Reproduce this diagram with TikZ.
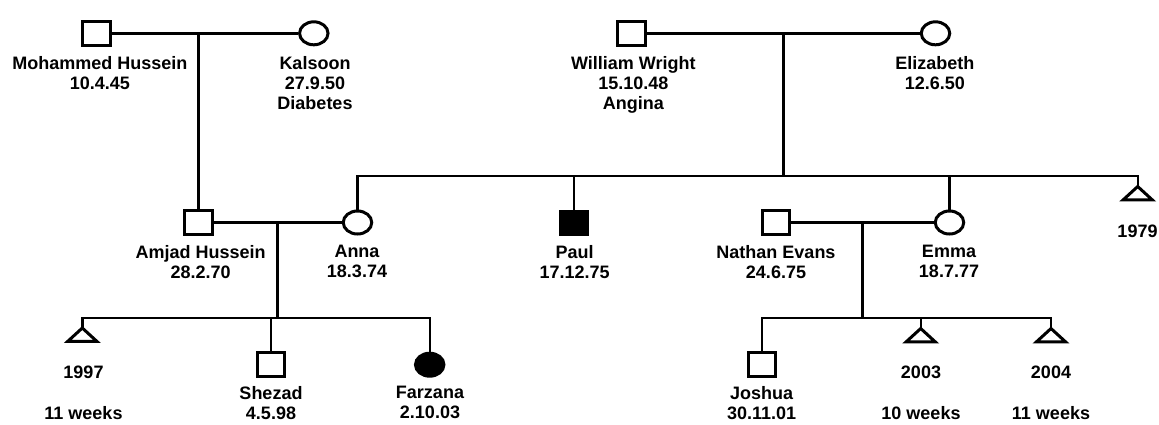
\documentclass[tikz,border=0pt]{standalone}
\usepackage{fontspec}
\setmainfont{Liberation Sans}
\usetikzlibrary{shapes.geometric}
\begin{document}
\begin{tikzpicture}[x=1pt,y=-1pt,
  male/.style={draw, rectangle, line width=3pt, minimum width=27.5pt, minimum height=23.5pt, inner sep=0pt},
  female/.style={draw, ellipse, line width=3pt, minimum width=28.5pt, minimum height=23pt, inner sep=0pt},
  affm/.style={fill=black},
  lbl/.style={font=\fontsize{18}{19.8}\selectfont\bfseries, align=center, anchor=north, inner sep=0pt},
  conn/.style={line width=2.4pt},
  drop/.style={line width=3pt},
  tri/.style={line width=3pt, line join=miter}]
\useasboundingbox (0,0) rectangle (1159,424);

% persons
\node[male]   (M)  at (96.7,33.3) {};
\node[female] (K)  at (313.8,33.3) {};
\node[male]   (W)  at (631.7,33.3) {};
\node[female] (E)  at (935.5,33.3) {};
\node[male]   (A)  at (198.5,222.5) {};
\node[female] (An) at (357.5,222.5) {};
\node[male,affm] (P) at (574,222.8) {};
\node[male]   (N)  at (776.2,222.5) {};
\node[female] (Em) at (949.5,222.5) {};
\node[male]   (S)  at (270.8,364.7) {};
\node[female,affm] (F) at (429.7,364.7) {};
\node[male]   (J)  at (761.8,364.7) {};

% Hussein couple
\coordinate (mk) at (198.5,33.3);
\draw[conn] (M) -- (K);
\draw[drop] (mk) -- (A);

% Wright couple
\coordinate (we) at (783.3,33.3);
\coordinate (s1) at (783.3,176);
\draw[conn] (W) -- (E);
\draw[drop] (we) -- (s1);
\coordinate (t79) at (1137.7,186.5);
\draw[conn] (An.north) -- (An.north |- s1) -- (t79 |- s1) -- (t79);
\draw[conn] (P.north) -- (P.north |- s1);
\draw[conn] (Em.north) -- (Em.north |- s1);
\draw[tri] (t79) -- ++(-14.5,13.3) -- ++(29,0) -- cycle;

% Amjad & Anna
\coordinate (aa) at (277.7,222.5);
\coordinate (s2) at (277.7,317.7);
\draw[conn] (A) -- (An);
\draw[drop] (aa) -- (s2);
\coordinate (t97) at (82.3,328);
\draw[conn] (t97) -- (t97 |- s2) -- (F.north |- s2) -- (F.north);
\draw[conn] (S.north) -- (S.north |- s2);
\draw[tri] (t97) -- ++(-14.5,13.3) -- ++(29,0) -- cycle;

% Nathan & Emma
\coordinate (ne) at (862.7,222.5);
\coordinate (s3) at (862.7,318);
\draw[conn] (N) -- (Em);
\draw[drop] (ne) -- (s3);
\coordinate (t03) at (920.7,328.5);
\coordinate (t04) at (1051,328.5);
\draw[conn] (J.north) -- (J.north |- s3) -- (t04 |- s3) -- (t04);
\draw[conn] (t03 |- s3) -- (t03);
\draw[tri] (t03) -- ++(-14.5,13.3) -- ++(29,0) -- cycle;
\draw[tri] (t04) -- ++(-14.5,13.3) -- ++(29,0) -- cycle;

% labels
\node[lbl] (lM)  at (99.8,56.3)  {Mohammed Hussein\\10.4.45};
\node[lbl] (lK)  at (315,56.3)   {Kalsoon\\27.9.50\\Diabetes};
\node[lbl] (lW)  at (633.3,56.3) {William Wright\\15.10.48\\Angina};
\node[lbl] (lE)  at (934.8,56.3) {Elizabeth\\12.6.50};
\node[lbl] (lA)  at (200.7,245.3) {Amjad Hussein\\28.2.70};
\node[lbl] (lAn) at (357,245.3)  {Anna\\18.3.74};
\node[lbl] (lP)  at (574.7,245.3) {Paul\\17.12.75};
\node[lbl] (lN)  at (776,245.3)  {Nathan Evans\\24.6.75};
\node[lbl] (lEm) at (949,245.3)  {Emma\\18.7.77};
\node[lbl] (l79) at (1137.5,224.7) {1979};
\node[lbl] (l97) at (83.5,366)   {1997\\[20.5pt]11 weeks};
\node[lbl] (l03) at (921,366)    {2003\\[20.5pt]10 weeks};
\node[lbl] (l04) at (1051,366)   {2004\\[20.5pt]11 weeks};
\node[lbl] (lS)  at (271,386.3)  {Shezad\\4.5.98};
\node[lbl] (lF)  at (430,386.3)  {Farzana\\2.10.03};
\node[lbl] (lJ)  at (761.7,386.3) {Joshua\\30.11.01};
\end{tikzpicture}
\end{document}
